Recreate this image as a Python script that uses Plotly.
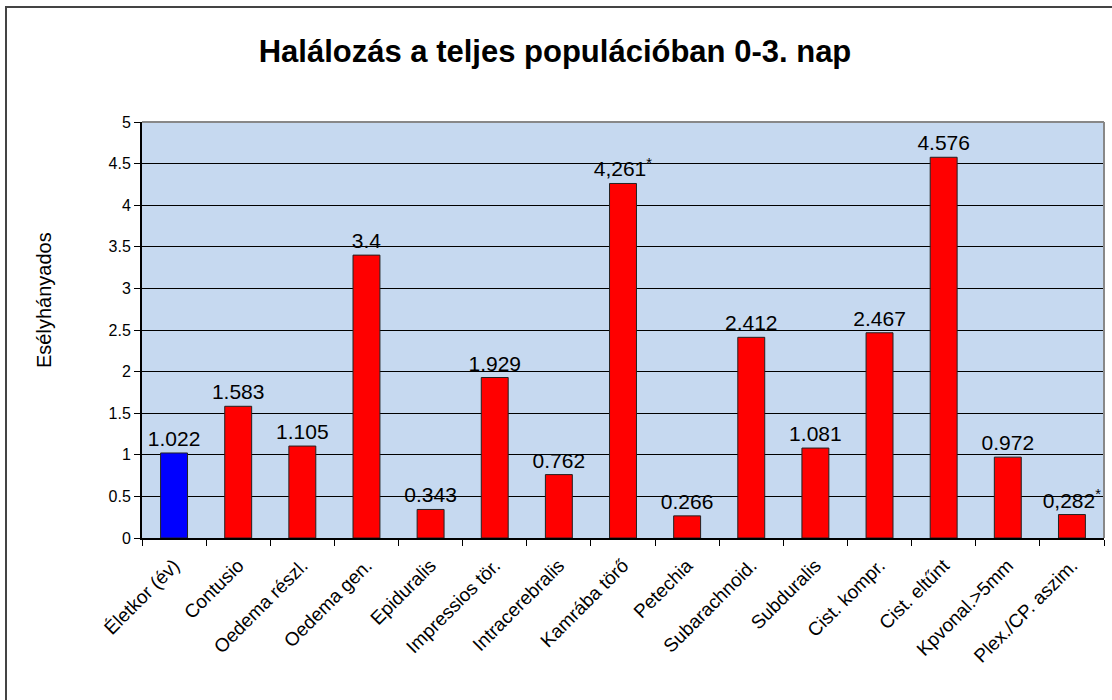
import plotly.graph_objects as go

categories = ["Életkor (év)", "Contusio", "Oedema részl.", "Oedema gen.", "Epiduralis",
              "Impressios tör.", "Intracerebralis", "Kamrába törő", "Petechia",
              "Subarachnoid.", "Subduralis", "Cist. kompr.", "Cist. eltűnt",
              "Kpvonal.>5mm", "Plex./CP. aszim."]
odds_ratio = [1.022, 1.583, 1.105, 3.4, 0.343, 1.929, 0.762, 4.261, 0.266,
              2.412, 1.081, 2.467, 4.576, 0.972, 0.282]
value_labels = ["1.022", "1.583", "1.105", "3.4", "0.343", "1.929", "0.762",
                "4,261<sup>*</sup>", "0.266", "2.412", "1.081", "2.467", "4.576",
                "0.972", "0,282<sup>*</sup>"]
bar_colors = ["#0000FF"] + ["#FF0000"] * 14

FONT = "Liberation Sans, Arial, sans-serif"
W, H = 1112, 700
L, R, T, B = 142, 1104, 122, 538

fig = go.Figure(go.Bar(
    x=categories, y=odds_ratio, text=value_labels,
    textposition="outside", constraintext="none", cliponaxis=False,
    textfont=dict(family=FONT, size=21, color="black"),
    marker=dict(color=bar_colors, line=dict(color="#222222", width=1)),
))

fig.update_layout(
    width=W, height=H,
    margin=dict(l=L, r=W - R, t=T, b=H - B),
    paper_bgcolor="white", plot_bgcolor="#C6D9F0",
    bargap=0.58, showlegend=False,
    font=dict(family=FONT, color="black"),
    title=dict(text="<b>Halálozás a teljes populációban 0-3. nap</b>",
               x=555 / W, xanchor="center", y=1 - 51 / H, yanchor="middle",
               yref="container", font=dict(family=FONT, size=31, color="black")),
)
fig.update_yaxes(range=[0, 5], dtick=0.5, showgrid=True, gridcolor="black", gridwidth=1,
                 zeroline=False, showline=True, linecolor="black", linewidth=2,
                 ticks="outside", ticklen=6, tickcolor="black",
                 tickfont=dict(family=FONT, size=16))
fig.update_xaxes(showline=True, linecolor="black", linewidth=2, ticks="outside",
                 tickson="boundaries", ticklen=6, tickcolor="black", tickangle=-45,
                 ticklabelstandoff=7,
                 tickfont=dict(family=FONT, size=19), showgrid=False)

pw, ph = R - L, B - T
# y-axis title
fig.add_annotation(text="Esélyhányados", xref="paper", yref="paper",
                   x=(44 - L) / pw, y=(B - 300) / ph, xanchor="center", yanchor="middle",
                   textangle=-90, showarrow=False, font=dict(family=FONT, size=20, color="black"))
# plot area border (top/right, gray)
fig.add_shape(type="line", xref="paper", yref="paper", x0=0, x1=1, y0=1, y1=1,
              line=dict(color="#888888", width=2))
fig.add_shape(type="line", xref="paper", yref="paper", x0=1, x1=1, y0=0, y1=1,
              line=dict(color="#888888", width=2))
# outer chart frame
fig.add_shape(type="rect", xref="paper", yref="paper",
              x0=(6 - L) / pw, x1=(1120 - L) / pw,
              y0=(B - 710) / ph, y1=(B - 7) / ph,
              line=dict(color="#444444", width=2), fillcolor="rgba(0,0,0,0)", layer="below")

fig.write_html("out.html", config={"displayModeBar": False},
               post_script="document.body.style.margin='0';")
